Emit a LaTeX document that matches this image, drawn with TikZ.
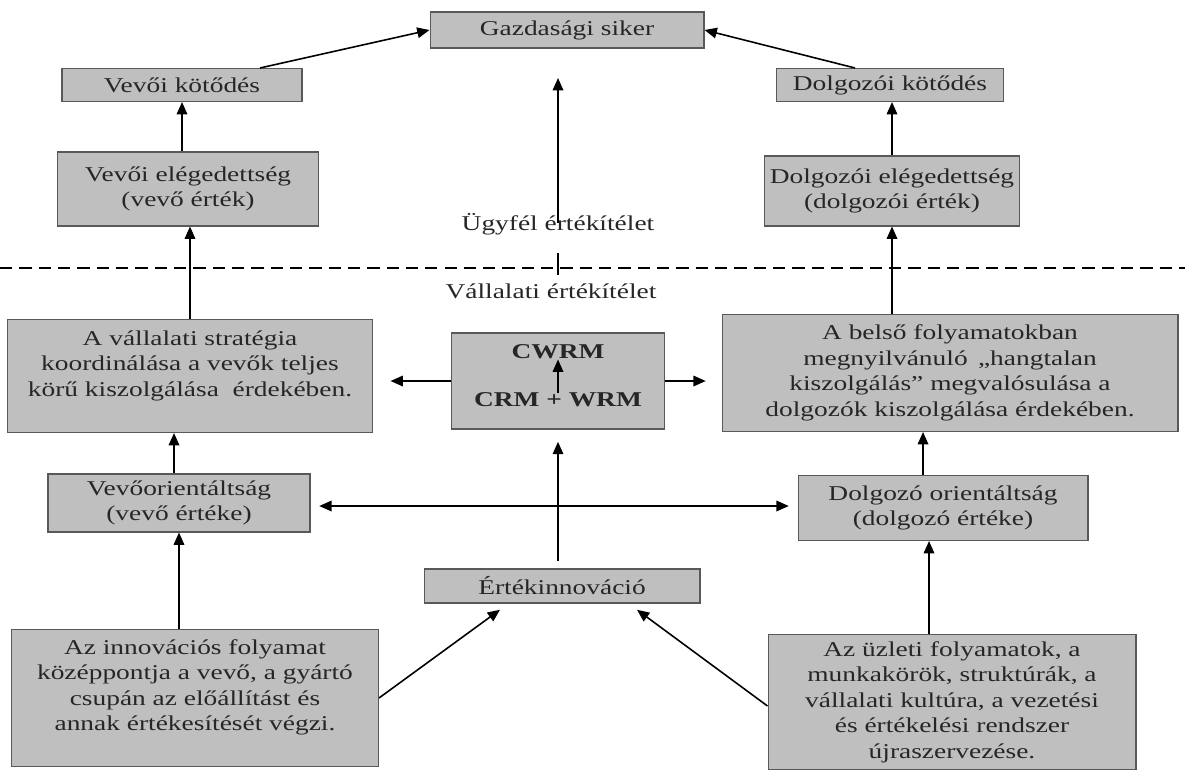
\documentclass[tikz,border=0pt]{standalone}
\usepackage{fontspec}
\setmainfont{Liberation Serif}[FakeStretch=1.3]
\usepackage{xcolor}
\usetikzlibrary{positioning,arrows.meta}

\begin{document}
\begin{tikzpicture}[
    x=0.02cm, y=-0.02cm,
    every node/.style={font=\fontsize{12}{14.5}\selectfont, text=black!85},
    box/.style={draw=black!65, fill=black!25, align=center, inner sep=0pt, line width=0.6pt},
    lbl/.style={inner sep=0pt, align=center},
    arr/.style={-{Triangle[length=7pt,width=6pt]}, line width=0.9pt},
    darr/.style={{Triangle[length=7pt,width=6pt]}-{Triangle[length=7pt,width=6pt]}, line width=0.9pt},
]
\useasboundingbox (0,0) rectangle (1185,769);
% upper part
\node[box, minimum width=5.48cm, minimum height=0.72cm] (gs) at (567,30) {Gazdasági siker};
\node[box, minimum width=4.8cm,  minimum height=0.66cm] (vk) at (182,85) {Vevői kötődés};
\node[box, minimum width=4.54cm, minimum height=0.66cm] (dk) at (890,85) {Dolgozói kötődés};
\node[box, minimum width=5.22cm, minimum height=1.48cm] (ve) at (188,189) {Vevői elégedettség\\(vevő érték)};
\node[box, minimum width=5.1cm,  minimum height=1.4cm]  (de) at (892,191) {Dolgozói elégedettség\\(dolgozói érték)};
\node[lbl] (ugy) at (558,224) {Ügyfél értékítélet};
\node[lbl] (val) at (551,291) {Vállalati értékítélet};
\coordinate (dl) at (0,268);
\coordinate (dr) at (1185,268);
\coordinate (top) at (558,78);
\coordinate (tka) at (558,253);
\coordinate (tkb) at (558,275);
% middle part
\node[box, minimum width=7.3cm, minimum height=2.26cm] (strat) at (190,376) {A vállalati stratégia\\koordinálása a vevők teljes\\körű kiszolgálása \ érdekében.\\ {}};
\node[box, minimum width=4.26cm, minimum height=1.92cm] (cw) at (558,381) {};
\node[lbl, font=\fontsize{12}{14.5}\selectfont\bfseries] (cwa) at (558,352) {CWRM};
\node[lbl, font=\fontsize{12}{14.5}\selectfont\bfseries] (cwb) at (558,400) {CRM + WRM};
\node[box, minimum width=9.12cm, minimum height=2.34cm] (inner) at (950,373) {A belső folyamatokban\\megnyilvánuló \,„hangtalan\\kiszolgálás” megvalósulása a\\dolgozók kiszolgálása érdekében.};
\node[box, minimum width=5.24cm, minimum height=1.16cm] (vo) at (179,503) {Vevőorientáltság\\(vevő értéke)};
\node[box, minimum width=5.8cm,  minimum height=1.3cm]  (do) at (943,508) {Dolgozó orientáltság\\(dolgozó értéke)};
% lower part
\node[box, minimum width=5.52cm, minimum height=0.68cm] (ei) at (562,586) {Értékinnováció};
\node[box, minimum width=7.34cm, minimum height=2.74cm] (inno) at (195,698) {Az innovációs folyamat\\középpontja a vevő, a gyártó\\csupán az előállítást és\\annak értékesítését végzi.\\ {}};
\node[box, minimum width=7.36cm, minimum height=2.72cm] (reorg) at (952,702) {Az üzleti folyamatok, a\\munkakörök, struktúrák, a\\vállalati kultúra, a vezetési\\és értékelési rendszer\\újraszervezése.};

\draw[dashed, line width=0.6pt, dash pattern=on 7pt off 4pt] (dl) -- (dr);
\draw[line width=0.9pt] (tka) -- (tkb);
\draw[arr] ([yshift=-0.2cm]ugy.north) -- (top);
\draw[arr] ([xshift=1.56cm]vk.north) -- (gs.west);
\draw[arr] ([xshift=-0.7cm]dk.north) -- (gs.east);
\draw[arr] (ve.north -| vk) -- (vk.south);
\draw[arr] (de.north) -- (de.north |- dk.south);
\draw[arr] (strat.north) -- (strat.north |- ve.south);
\draw[arr] (inner.north -| de) -- (de.south);
\draw[arr] ([xshift=-0.1cm]vo.north) -- ([xshift=-0.1cm]vo.north |- strat.south);
\draw[arr] ([xshift=-0.4cm]do.north) -- ([xshift=-0.4cm]do.north |- inner.south);
\draw[arr] (inno.north -| vo) -- (vo.south);
\draw[arr] ([xshift=-0.28cm]do.south |- reorg.north) -- ([xshift=-0.28cm]do.south);
\draw[arr, shorten >=10pt] (cw.west) -- (cw.west -| strat.east);
\draw[arr, shorten >=9pt] (cw.east) -- (cw.east -| inner.west);
\draw[arr] (cwb.north) -- (cwa.south);
\draw[darr, shorten <=5pt, shorten >=5pt] ([yshift=-0.06cm]vo.east) -- ([yshift=-0.06cm]vo.east -| do.west);
\draw[arr, shorten <=4pt, shorten >=7pt] (ei.north -| cw) -- (cw.south);
\draw[arr, shorten >=6pt] (inno.east) -- ([xshift=1.7cm]ei.south west);
\draw[arr, shorten >=6pt] ([yshift=-0.08cm]reorg.west) -- ([xshift=-1.44cm]ei.south east);
\end{tikzpicture}
\end{document}
